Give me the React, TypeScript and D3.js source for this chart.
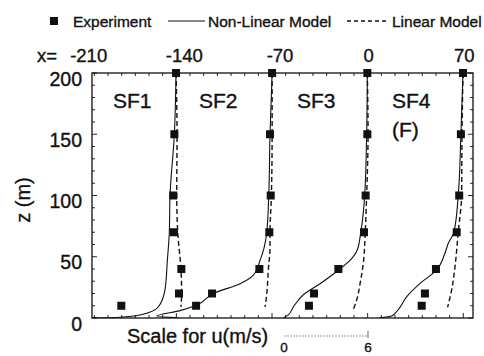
import React, { useRef, useEffect } from 'react'
import * as d3 from 'd3'

// x stations of the four sites (top axis, m) and their labels
const stations = [-210, -140, -70, 0]
const siteLabels = [['SF1'], ['SF2'], ['SF3'], ['SF4', '(F)']]
const topTicks = [-210, -140, -70, 0, 70]
const zTicks = [0, 50, 100, 150, 200]

// [z (m), u (m/s)] pairs
const sf1Exp = [[200, 6.81], [150, 6.69], [100, 6.61], [70, 6.66], [40, 7.19], [20, 7.02], [10, 2.9]]
const sf1NonLinear = [[200, 6.81], [150, 6.69], [100, 6.38], [70, 6.33], [47, 6.19], [23, 6.02], [9, 5.54], [2.5, 4.24], [0.6, 2.81], [0, 0.88]]
const sf1Linear = [[200, 6.81], [150, 6.88], [100, 6.86], [70, 6.93], [40, 7.16], [20, 7.21], [9, 7.16]]

const sf2Exp = [[200, 6.84], [150, 6.69], [100, 6.74], [70, 6.64], [40, 5.93], [20, 2.55], [10, 1.41]]
const sf2NonLinear = [[200, 6.84], [150, 6.69], [100, 6.6], [70, 6.46], [57, 6.26], [47, 5.98], [35, 5.5], [28, 4.55], [20, 2.64], [10.6, 1.46], [6, 0.26], [1.6, -1.4], [0, 0.2]]
const sf2Linear = [[200, 6.84], [150, 6.84], [100, 6.79], [70, 6.69], [58, 6.69], [39, 6.57], [20, 6.46], [9, 6.34]]

const sf3Exp = [[200, 6.81], [150, 6.81], [100, 6.69], [70, 6.57], [40, 4.74], [20, 3.0], [10, 2.64]]
const sf3NonLinear = [[200, 6.81], [150, 6.76], [100, 6.62], [70, 6.34], [55.5, 6.09], [47, 5.57], [39, 4.74], [28, 3.43], [19, 2.24], [9, 1.52], [2.5, 1.16], [0, 0.81]]
const sf3Linear = [[200, 6.81], [150, 6.86], [100, 6.76], [70, 6.66], [44.6, 6.52], [28, 6.29], [14.7, 6.05], [7, 5.81]]

const sf4Exp = [[200, 6.81], [150, 6.66], [100, 6.54], [70, 6.36], [40, 4.88], [20, 4.09], [10, 3.86]]
const sf4NonLinear = [[200, 6.81], [150, 6.66], [100, 6.47], [70, 6.16], [61, 5.76], [52.8, 5.52], [38.6, 4.88], [28.3, 3.74], [17.4, 2.79], [5.2, 2.07], [1.6, 1.71], [0, 0.81]]
const sf4Linear = [[200, 6.81], [150, 6.74], [100, 6.71], [70, 6.47], [42, 6.24], [23, 6.0], [8.7, 5.71]]

const experiments = [sf1Exp, sf2Exp, sf3Exp, sf4Exp]
const nonLinear = [sf1NonLinear, sf2NonLinear, sf3NonLinear, sf4NonLinear]
const linear = [sf1Linear, sf2Linear, sf3Linear, sf4Linear]

const FONT = '"Liberation Sans", Arial, sans-serif'
const INK = '#111'

export default function App() {
  const svgRef = useRef<SVGSVGElement>(null)
  const width = 484
  const height = 356

  useEffect(() => {
    if (!svgRef.current) return
    const svg = d3.select(svgRef.current)
    svg.selectAll('*').remove()

    const plot = { left: 92, right: 473, top: 73, bottom: 318 }

    const xScale = d3.scaleLinear().domain([-210, 70]).range([80.7, 463.3])
    const yScale = d3.scaleLinear().domain([0, 200]).range([plot.bottom, plot.top])
    // velocity scale: offset in px from the station position
    const uScale = d3.scaleLinear().domain([0, 6]).range([0, 84])

    // scanned print looks heavy, thicken the glyphs a little
    const heavy = (sel: any, size: string) => sel
      .style('font-size', size).style('font-family', FONT)
      .style('fill', INK).style('stroke', INK).style('stroke-width', 0.35)

    svg.append('defs').append('clipPath').attr('id', 'plot-clip')
      .append('rect')
      .attr('x', plot.left).attr('y', plot.top - 6)
      .attr('width', plot.right - plot.left + 6).attr('height', plot.bottom - plot.top + 6)

    // frame
    svg.append('rect')
      .attr('x', plot.left).attr('y', plot.top)
      .attr('width', plot.right - plot.left).attr('height', plot.bottom - plot.top)
      .attr('fill', 'none').attr('stroke', INK).attr('stroke-width', 1.3)

    // inward ticks
    const ticks = svg.append('g').attr('stroke', INK).attr('stroke-width', 0.9)
    d3.range(0, 201, 10).forEach(z => {
      const len = z % 50 === 0 ? 5 : 3
      const y = yScale(z)
      ticks.append('line').attr('x1', plot.left).attr('x2', plot.left + len).attr('y1', y).attr('y2', y)
      ticks.append('line').attr('x1', plot.right).attr('x2', plot.right - len).attr('y1', y).attr('y2', y)
    })
    d3.range(-200, 71, 10).forEach(v => {
      const len = v % 70 === 0 ? 5 : 3
      const x = xScale(v)
      ticks.append('line').attr('x1', x).attr('x2', x).attr('y1', plot.top).attr('y2', plot.top + len)
      ticks.append('line').attr('x1', x).attr('x2', x).attr('y1', plot.bottom).attr('y2', plot.bottom - len)
    })

    // z tick labels
    heavy(svg.append('g').selectAll('text').data(zTicks).enter().append('text')
      .attr('x', 82).attr('y', d => yScale(d) + 12.5)
      .attr('text-anchor', 'end')
      .text(d => d), '19.5px')

    // top x labels
    heavy(svg.append('text').attr('x', 37).attr('y', 62).text('x='), '18.5px')
    heavy(svg.append('g').selectAll('text').data(topTicks).enter().append('text')
      .attr('x', d => xScale(d) + (d < 0 ? 8 : 1)).attr('y', 62)
      .attr('text-anchor', 'middle')
      .text(d => d), '18.5px')

    // y title
    heavy(svg.append('text')
      .attr('transform', 'translate(30,200) rotate(-90)')
      .attr('text-anchor', 'middle')
      .text('z (m)'), '20px')

    // site labels
    const labelX = [113, 199, 297, 392]
    siteLabels.forEach((lines, i) => {
      lines.forEach((t, j) => {
        heavy(svg.append('text')
          .attr('x', labelX[i]).attr('y', 108 + j * 29)
          .text(t), '21px')
      })
    })

    const g = svg.append('g').attr('clip-path', 'url(#plot-clip)')

    stations.forEach((s, i) => {
      const line = d3.line<number[]>()
        .x(d => xScale(s) + uScale(d[1]))
        .y(d => yScale(d[0]))
        .curve(d3.curveMonotoneY)

      g.append('path')
        .attr('d', line(nonLinear[i]))
        .attr('fill', 'none').attr('stroke', INK).attr('stroke-width', 1.1)

      g.append('path')
        .attr('d', line(linear[i]))
        .attr('fill', 'none').attr('stroke', INK).attr('stroke-width', 1.4)
        .attr('stroke-dasharray', '5,3')

      g.selectAll(`.exp-${i}`)
        .data(experiments[i])
        .enter().append('rect')
        .attr('class', `exp-${i}`)
        .attr('x', d => xScale(s) + uScale(d[1]) - 4)
        .attr('y', d => yScale(d[0]) - 4)
        .attr('width', 8).attr('height', 8)
        .attr('fill', INK)
    })

    // legend
    const legend = svg.append('g')
    legend.append('rect').attr('x', 50).attr('y', 17).attr('width', 8).attr('height', 8).attr('fill', INK)
    heavy(legend.append('text').attr('x', 73).attr('y', 26.5).text('Experiment'), '15.5px')
    legend.append('line').attr('x1', 168).attr('x2', 205).attr('y1', 21).attr('y2', 21)
      .attr('stroke', INK).attr('stroke-width', 1.1)
    heavy(legend.append('text').attr('x', 208).attr('y', 26.5).text('Non-Linear Model'), '15.5px')
    legend.append('line').attr('x1', 347).attr('x2', 389).attr('y1', 21).attr('y2', 21)
      .attr('stroke', INK).attr('stroke-width', 1.3).attr('stroke-dasharray', '4,3')
    heavy(legend.append('text').attr('x', 392).attr('y', 26.5).text('Linear Model'), '15.5px')

    // velocity scale bar
    const barX = 284
    const barY = 336
    heavy(svg.append('text').attr('x', 127).attr('y', 343).text('Scale for u(m/s)'), '20px')
    svg.append('line')
      .attr('x1', barX + uScale(0)).attr('x2', barX + uScale(6)).attr('y1', barY).attr('y2', barY)
      .attr('stroke', '#999').attr('stroke-width', 1).attr('stroke-dasharray', '2,1')
    svg.append('line')
      .attr('x1', barX + uScale(6)).attr('x2', barX + uScale(6)).attr('y1', barY - 5).attr('y2', barY + 2)
      .attr('stroke', '#666').attr('stroke-width', 1)
    heavy(svg.append('g').selectAll('text').data([0, 6]).enter().append('text')
      .attr('x', d => barX + uScale(d)).attr('y', 352)
      .attr('text-anchor', 'middle')
      .text(d => d), '13.5px')
  }, [])

  return (
    <svg
      ref={svgRef}
      width={width}
      height={height}
      style={{ position: 'absolute', left: 0, top: 0, background: '#fff', fontFamily: FONT }}
    />
  )
}
